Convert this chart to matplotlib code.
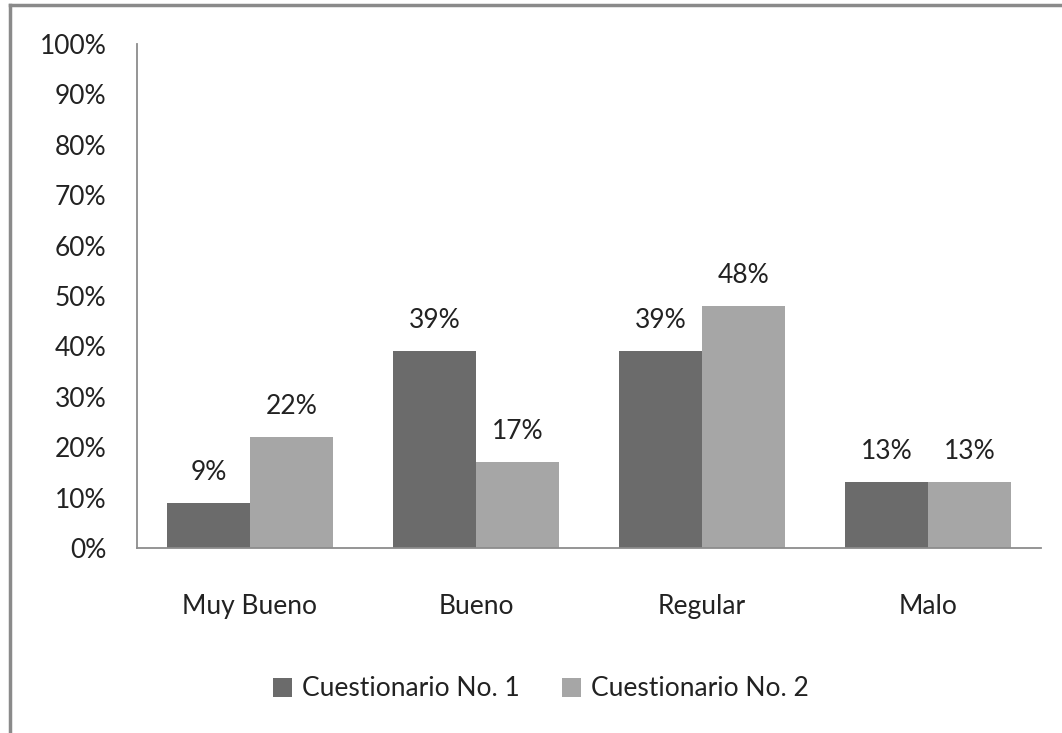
import numpy as np
import matplotlib.pyplot as plt
from matplotlib.lines import Line2D

plt.rcParams['font.family'] = ['Lato', 'DejaVu Sans']

categories = ['Muy Bueno', 'Bueno', 'Regular', 'Malo']
series_names = ['Cuestionario No. 1', 'Cuestionario No. 2']
cuest1 = [9, 39, 39, 13]
cuest2 = [22, 17, 48, 13]
yticks = [0, 10, 20, 30, 40, 50, 60, 70, 80, 90, 100]

dark = '#6b6b6b'
light = '#a6a6a6'
fs = 19

fig = plt.figure(figsize=(10.62, 7.33), dpi=100)
ax = fig.add_axes([137 / 1062, 1 - 548 / 733, (1041 - 137) / 1062, (548 - 44) / 733])

x = np.arange(len(categories))
w = 0.367
b1 = ax.bar(x - w / 2, cuest1, w, color=dark, label=series_names[0])
b2 = ax.bar(x + w / 2, cuest2, w, color=light, label=series_names[1])

for bars, vals in ((b1, cuest1), (b2, cuest2)):
    for r, v in zip(bars, vals):
        ax.annotate('{}%'.format(v), (r.get_x() + r.get_width() / 2, v),
                    xytext=(0, 13), textcoords='offset points',
                    ha='center', va='bottom', fontsize=fs, color='#222222')

ax.set_xlim(-0.5, len(categories) - 0.5)
ax.set_ylim(0, 100)
ax.set_yticks(yticks)
ax.set_yticklabels(['{}%'.format(t) for t in yticks])
ax.set_xticks(x)
ax.set_xticklabels(categories)
ax.tick_params(length=0, labelsize=fs, labelcolor='#222222')
ax.tick_params(axis='x', pad=33)
ax.tick_params(axis='y', pad=22)
for s in ('top', 'right'):
    ax.spines[s].set_visible(False)
for s in ('left', 'bottom'):
    ax.spines[s].set_color('#8c8c8c')
    ax.spines[s].set_linewidth(1.3)

fig.legend(handles=[b1, b2], loc='center', bbox_to_anchor=(541 / 1062, 1 - 689 / 733),
           ncol=2, frameon=False, fontsize=fs, handlelength=0.7, handleheight=0.7,
           handletextpad=0.4, columnspacing=1.6, labelcolor='#222222')

# outer frame (only top and left visible in the reference)
fig.add_artist(Line2D([9.5 / 1062, 1], [1 - 5 / 733, 1 - 5 / 733], color='#8a8a8a', lw=2.5))
fig.add_artist(Line2D([9.5 / 1062, 9.5 / 1062], [0, 1 - 5 / 733], color='#8a8a8a', lw=2.5))

fig.savefig('out.png', dpi=100, facecolor='white')
